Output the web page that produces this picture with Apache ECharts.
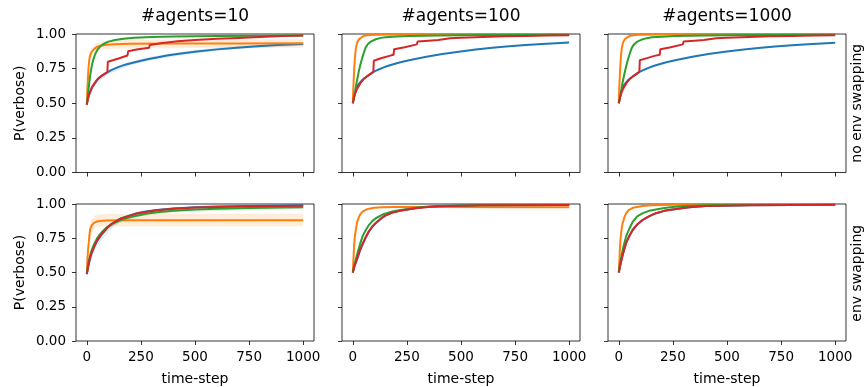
<!DOCTYPE html>
<html><head><meta charset="utf-8">
<script src="https://cdn.jsdelivr.net/npm/echarts@6/dist/echarts.min.js"></script>
<style>html,body{margin:0;padding:0;background:#fff}#c{width:867px;height:387px}</style>
</head><body><div id="c"></div>
<script>
// ---------- labels ----------
const colTitles = ['#agents=10', '#agents=100', '#agents=1000'];
const rowLabels = ['no env swapping', 'env swapping'];
const xTickValues = [0, 250, 500, 750, 1000];
const xLabel = 'time-step';
const yLabel = 'P(verbose)';
const seriesNames = ['blue', 'orange', 'green', 'red'];

// ---------- row 1 (no env swapping) : [time-step, P(verbose)] ----------
const r1c1Blue = [[0,0.49],[3,0.52],[6,0.54],[9,0.555],[16,0.585],[23,0.61],[35,0.64],[46,0.665],[58,0.685],[70,0.70],[93,0.722],[115,0.741],[139,0.757],[160,0.77],[185,0.781],[231,0.80],[280,0.817],[324,0.831],[370,0.844],[417,0.855],[509,0.873],[602,0.889],[694,0.901],[787,0.912],[880,0.921],[1000,0.928]];
const r1c1Orange = [[0,0.49],[2,0.58],[5,0.68],[8,0.76],[12,0.82],[16,0.85],[22,0.87],[31,0.888],[45,0.905],[62,0.915],[90,0.922],[130,0.926],[200,0.929],[400,0.931],[700,0.932],[1000,0.933]];
const r1c1Green = [[0,0.49],[4,0.55],[8,0.60],[12,0.655],[16,0.705],[20,0.745],[25,0.785],[30,0.815],[40,0.86],[50,0.888],[62,0.91],[75,0.926],[100,0.945],[130,0.957],[170,0.966],[220,0.973],[300,0.978],[400,0.982],[600,0.986],[800,0.988],[1000,0.99]];
const r1c1Red = [[0,0.49],[5,0.53],[12,0.57],[25,0.62],[50,0.675],[75,0.705],[95,0.725],[97,0.80],[120,0.81],[150,0.825],[188,0.845],[191,0.875],[230,0.888],[288,0.90],[291,0.92],[350,0.935],[420,0.947],[500,0.956],[600,0.965],[700,0.972],[800,0.979],[900,0.985],[1000,0.99]];
// bands: [time-step, low, high]
const r1c1BlueBand = [[0,0.47,0.51],[10,0.53,0.575],[25,0.595,0.635],[50,0.65,0.69],[100,0.71,0.74],[200,0.775,0.80],[300,0.812,0.838],[500,0.861,0.885],[700,0.894,0.916],[1000,0.916,0.94]];
const r1c1OrangeBand = [[0,0.47,0.51],[5,0.64,0.72],[10,0.75,0.83],[20,0.84,0.895],[40,0.875,0.93],[80,0.89,0.952],[150,0.895,0.956],[300,0.898,0.96],[600,0.9,0.962],[1000,0.9,0.962]];

const r1c2Blue = [[0,0.50],[3,0.525],[8,0.56],[15,0.60],[25,0.635],[45,0.67],[70,0.70],[98,0.728],[120,0.744],[140,0.757],[160,0.769],[183,0.78],[220,0.796],[260,0.81],[300,0.823],[340,0.835],[414,0.855],[490,0.872],[568,0.888],[645,0.90],[722,0.912],[800,0.921],[875,0.928],[1000,0.938]];
const r1c2Orange = [[0,0.50],[2,0.60],[5,0.70],[8,0.79],[11,0.85],[14,0.895],[18,0.925],[22,0.945],[30,0.965],[37,0.976],[50,0.985],[60,0.989],[80,0.993],[106,0.995],[200,0.997],[400,0.998],[1000,0.999]];
const r1c2Green = [[0,0.50],[5,0.54],[10,0.58],[14,0.62],[20,0.67],[29,0.74],[37,0.79],[45,0.835],[52,0.87],[60,0.905],[70,0.928],[83,0.945],[106,0.962],[130,0.972],[152,0.977],[200,0.982],[260,0.985],[400,0.99],[600,0.993],[1000,0.995]];
const r1c2Red = [[0,0.50],[5,0.54],[12,0.575],[20,0.605],[35,0.645],[50,0.675],[75,0.705],[95,0.727],[97,0.807],[130,0.825],[165,0.84],[188,0.85],[191,0.89],[240,0.905],[296,0.925],[299,0.945],[350,0.952],[395,0.957],[398,0.965],[450,0.97],[500,0.973],[600,0.978],[700,0.983],[800,0.986],[900,0.989],[1000,0.991]];

const r1c3Blue = [[0,0.50],[3,0.525],[8,0.56],[15,0.60],[25,0.635],[45,0.67],[70,0.70],[98,0.728],[120,0.744],[140,0.757],[160,0.769],[183,0.78],[220,0.796],[260,0.81],[300,0.823],[340,0.835],[414,0.855],[490,0.872],[568,0.887],[645,0.899],[722,0.91],[800,0.919],[875,0.926],[1000,0.937]];
const r1c3Orange = [[0,0.50],[2,0.61],[5,0.71],[8,0.80],[11,0.86],[14,0.90],[18,0.93],[22,0.948],[30,0.967],[37,0.978],[50,0.986],[60,0.99],[80,0.993],[106,0.995],[200,0.997],[400,0.998],[1000,0.999]];
const r1c3Green = [[0,0.50],[5,0.54],[10,0.58],[14,0.62],[20,0.67],[29,0.735],[37,0.785],[45,0.83],[52,0.865],[60,0.9],[70,0.925],[83,0.943],[106,0.96],[130,0.97],[152,0.976],[200,0.981],[260,0.985],[400,0.99],[600,0.993],[1000,0.995]];
const r1c3Red = [[0,0.50],[5,0.54],[12,0.575],[20,0.605],[35,0.645],[50,0.675],[75,0.705],[95,0.727],[97,0.81],[130,0.826],[165,0.842],[189,0.85],[192,0.89],[240,0.905],[296,0.925],[299,0.945],[350,0.952],[393,0.957],[396,0.966],[450,0.97],[500,0.973],[600,0.978],[700,0.983],[800,0.986],[900,0.989],[1000,0.991]];

// ---------- row 2 (env swapping) ----------
const r2c1Blue = [[0,0.487],[5,0.53],[10,0.57],[16,0.61],[23,0.644],[35,0.69],[46,0.727],[58,0.755],[70,0.78],[93,0.824],[115,0.855],[139,0.879],[160,0.896],[185,0.91],[231,0.933],[280,0.947],[324,0.957],[400,0.968],[500,0.977],[600,0.982],[750,0.986],[1000,0.99]];
const r2c1Orange = [[0,0.49],[3,0.60],[6,0.67],[9,0.716],[12,0.77],[15,0.81],[20,0.835],[31,0.86],[46,0.872],[70,0.877],[93,0.879],[150,0.881],[300,0.882],[600,0.882],[1000,0.882]];
const r2c1Green = [[0,0.49],[5,0.55],[10,0.59],[16,0.63],[23,0.665],[35,0.71],[46,0.745],[58,0.772],[70,0.795],[93,0.83],[115,0.853],[139,0.87],[160,0.884],[185,0.897],[231,0.915],[280,0.93],[324,0.94],[400,0.951],[500,0.96],[600,0.966],[750,0.971],[1000,0.976]];
const r2c1Red = [[0,0.49],[5,0.535],[10,0.575],[16,0.615],[23,0.65],[35,0.695],[46,0.73],[58,0.76],[70,0.785],[93,0.825],[115,0.854],[139,0.878],[160,0.895],[185,0.908],[231,0.93],[280,0.944],[324,0.954],[400,0.965],[500,0.974],[600,0.979],[750,0.984],[1000,0.987]];
const r2c1OrangeBand = [[0,0.47,0.51],[5,0.62,0.72],[10,0.70,0.82],[20,0.78,0.89],[40,0.83,0.92],[80,0.835,0.925],[200,0.838,0.928],[500,0.838,0.928],[1000,0.838,0.928]];
const r2c1BlueBand = [[0,0.46,0.51],[10,0.54,0.60],[25,0.61,0.69],[50,0.70,0.77],[100,0.80,0.85],[150,0.87,0.90],[250,0.925,0.95],[400,0.96,0.976],[1000,0.985,0.995]];
const r2c1GreenBand = [[0,0.47,0.51],[10,0.57,0.61],[25,0.655,0.69],[50,0.735,0.77],[100,0.82,0.85],[150,0.86,0.89],[250,0.91,0.935],[400,0.94,0.962],[1000,0.966,0.986]];

const r2c2Blue = [[0,0.50],[5,0.53],[10,0.555],[16,0.58],[22,0.607],[33,0.66],[45,0.704],[60,0.755],[75,0.80],[90,0.833],[106,0.86],[130,0.893],[150,0.915],[183,0.938],[220,0.952],[260,0.962],[300,0.972],[350,0.979],[400,0.985],[600,0.99],[1000,0.992]];
const r2c2Orange = [[0,0.50],[3,0.60],[7,0.72],[10,0.77],[14,0.812],[20,0.87],[29,0.908],[37,0.93],[45,0.945],[60,0.958],[75,0.966],[100,0.972],[137,0.976],[200,0.978],[400,0.978],[700,0.977],[1000,0.976]];
const r2c2Green = [[0,0.50],[5,0.54],[10,0.575],[16,0.61],[22,0.644],[33,0.705],[45,0.764],[60,0.81],[75,0.848],[90,0.875],[106,0.896],[140,0.925],[183,0.945],[220,0.957],[260,0.966],[300,0.975],[350,0.981],[400,0.985],[600,0.99],[1000,0.992]];
const r2c2Red = [[0,0.50],[5,0.533],[10,0.56],[16,0.585],[22,0.612],[33,0.665],[45,0.71],[60,0.76],[75,0.803],[90,0.836],[106,0.862],[130,0.894],[150,0.915],[183,0.937],[220,0.951],[260,0.961],[300,0.971],[350,0.978],[400,0.984],[600,0.99],[1000,0.992]];

const r2c3Blue = [[0,0.50],[5,0.54],[10,0.575],[20,0.64],[34,0.716],[50,0.77],[65,0.812],[85,0.85],[111,0.884],[140,0.91],[172,0.933],[210,0.95],[249,0.96],[290,0.969],[326,0.976],[400,0.986],[600,0.991],[1000,0.995]];
const r2c3Orange = [[0,0.50],[3,0.60],[6,0.70],[10,0.78],[14,0.83],[18,0.86],[25,0.90],[34,0.933],[45,0.955],[65,0.972],[90,0.98],[111,0.985],[150,0.99],[250,0.994],[500,0.996],[1000,0.997]];
const r2c3Green = [[0,0.50],[5,0.56],[10,0.60],[20,0.68],[34,0.764],[50,0.825],[65,0.872],[85,0.91],[111,0.933],[140,0.95],[172,0.96],[210,0.97],[249,0.978],[300,0.985],[400,0.99],[600,0.993],[1000,0.995]];
const r2c3Red = [[0,0.50],[5,0.543],[10,0.578],[20,0.643],[34,0.718],[50,0.772],[65,0.813],[85,0.851],[111,0.885],[140,0.911],[172,0.933],[210,0.95],[249,0.96],[290,0.969],[326,0.976],[400,0.986],[600,0.991],[1000,0.995]];

// ---------- layout & style ----------
const colors = ['#1f77b4', '#ff7f0e', '#2ca02c', '#d62728'];
const gridLefts = [76, 342, 608];
const gridTops = [34, 204];
const gridW = 238, gridH = 138.5;
const FONT = 'DejaVu Sans';

const panels = [
  {row:0, col:0, lines:[r1c1Blue, r1c1Orange, r1c1Green, r1c1Red], bands:[[r1c1BlueBand,0],[r1c1OrangeBand,1]]},
  {row:0, col:1, lines:[r1c2Blue, r1c2Orange, r1c2Green, r1c2Red], bands:[]},
  {row:0, col:2, lines:[r1c3Blue, r1c3Orange, r1c3Green, r1c3Red], bands:[]},
  {row:1, col:0, lines:[r2c1Blue, r2c1Orange, r2c1Green, r2c1Red], bands:[[r2c1BlueBand,0],[r2c1GreenBand,2],[r2c1OrangeBand,1]]},
  {row:1, col:1, lines:[r2c2Blue, r2c2Orange, r2c2Green, r2c2Red], bands:[]},
  {row:1, col:2, lines:[r2c3Blue, r2c3Orange, r2c3Green, r2c3Red], bands:[]}
];

function hexA(hex, a) {
  const n = parseInt(hex.slice(1), 16);
  return 'rgba(' + (n >> 16) + ',' + ((n >> 8) & 255) + ',' + (n & 255) + ',' + a + ')';
}

const option = {animation:false, backgroundColor:'#fff', grid:[], xAxis:[], yAxis:[], series:[], graphic:[]};

panels.forEach((p, i) => {
  const bottomRow = p.row === 1, firstCol = p.col === 0;
  option.grid.push({left:gridLefts[p.col], top:gridTops[p.row], width:gridW, height:gridH,
    show:true, borderColor:'#000', borderWidth:0.8, backgroundColor:'rgba(0,0,0,0)'});
  option.xAxis.push({type:'value', gridIndex:i, min:-50, max:1050,
    splitLine:{show:false}, axisLine:{show:false, onZero:false},
    axisTick:{show:true, length:4, lineStyle:{color:'#000', width:0.8}, customValues:xTickValues},
    axisLabel:{show:bottomRow, customValues:xTickValues, color:'#000', fontSize:13.5, fontFamily:FONT, margin:9, formatter:v => String(v)},
    name: bottomRow ? xLabel : '', nameLocation:'middle', nameGap:31,
    nameTextStyle:{color:'#000', fontSize:14, fontFamily:FONT}});
  option.yAxis.push({type:'value', gridIndex:i, min:0, max:1, interval:0.25,
    splitLine:{show:false}, axisLine:{show:false, onZero:false},
    axisTick:{show:true, length:4, lineStyle:{color:'#000', width:0.8}},
    axisLabel:{show:firstCol, color:'#000', fontSize:13.5, fontFamily:FONT, margin:10, formatter:v => v.toFixed(2)},
    name: firstCol ? yLabel : '', nameLocation:'middle', nameGap:49, nameRotate:90,
    nameTextStyle:{color:'#000', fontSize:14, fontFamily:FONT}});
  p.bands.forEach(([band, ci]) => {
    option.series.push({type:'custom', xAxisIndex:i, yAxisIndex:i, silent:true, z:1, clip:true,
      data: band.map(b => [b[0], b[1], b[2]]), encode:{x:0, y:[1,2]},
      renderItem: function (params, api) {
        if (params.dataIndex !== 0) return {type:'group', children:[]};
        const pts = [];
        for (const b of band) pts.push(api.coord([b[0], b[1]]));
        for (let k = band.length - 1; k >= 0; k--) pts.push(api.coord([band[k][0], band[k][2]]));
        return {type:'polygon', shape:{points:pts}, style:{fill:hexA(colors[ci], 0.15)}};
      }});
  });
  p.lines.forEach((d, k) => {
    option.series.push({type:'line', name:seriesNames[k], xAxisIndex:i, yAxisIndex:i, data:d,
      showSymbol:false, symbol:'none', z:2 + k, silent:true, smooth:false,
      lineStyle:{color:colors[k], width:2}});
  });
});

colTitles.forEach((t, c) => {
  option.graphic.push({type:'text', x:gridLefts[c] + gridW / 2, y:17,
    style:{text:t, fill:'#000', fontSize:17, fontFamily:FONT, align:'center', verticalAlign:'middle'}});
});
rowLabels.forEach((t, r) => {
  option.graphic.push({type:'text', x:857, y:gridTops[r] + gridH / 2, rotation:Math.PI / 2,
    style:{text:t, fill:'#000', fontSize:14, fontFamily:FONT, align:'center', verticalAlign:'middle'}});
});

const chart = echarts.init(document.getElementById('c'), null, {renderer:'canvas'});
chart.setOption(option);
</script>
</body></html>
